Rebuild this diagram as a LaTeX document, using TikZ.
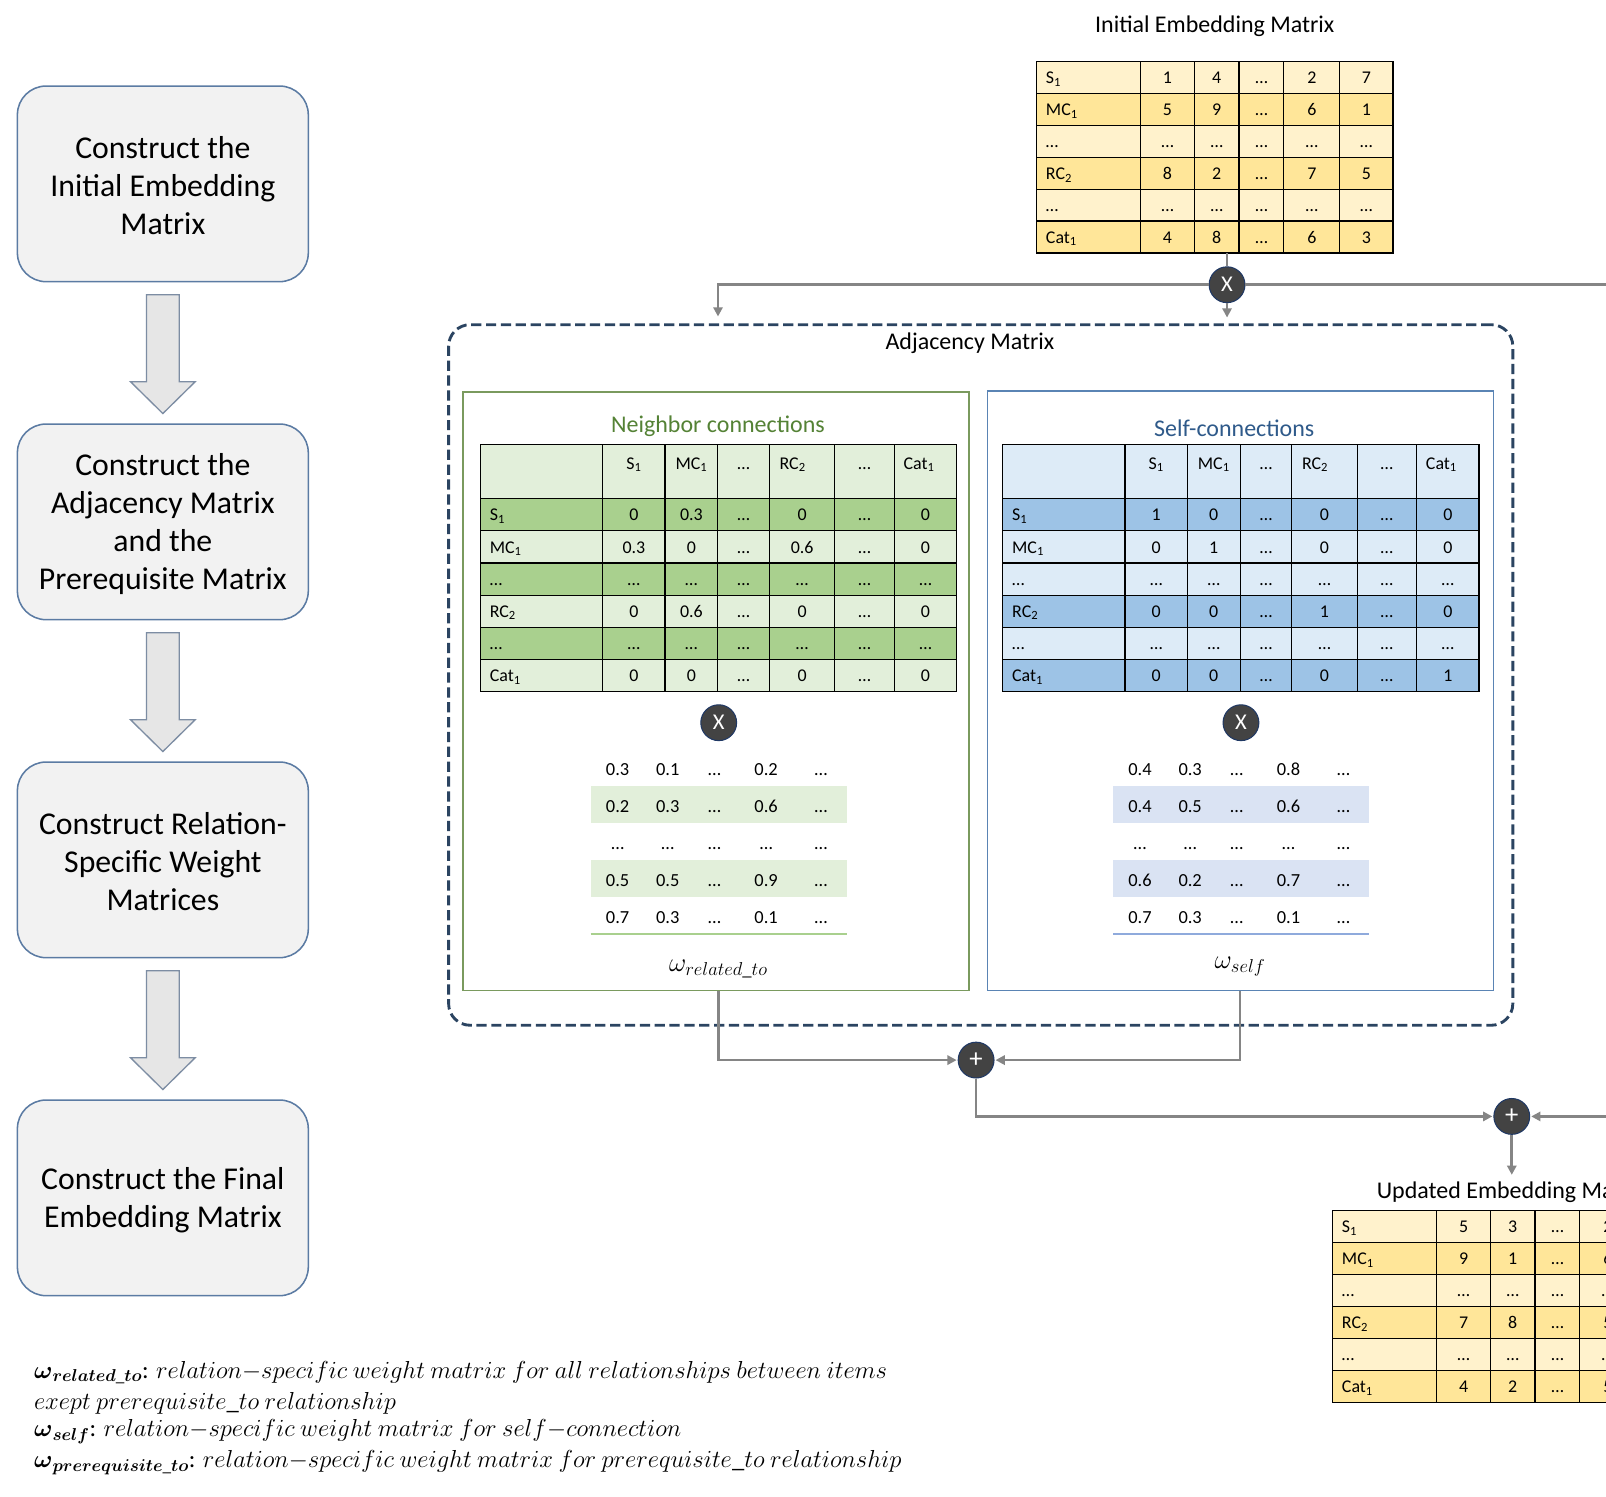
\RequirePackage{fix-cm}
\documentclass[tikz,border=0pt]{standalone}
\usepackage{amsmath}
\usepackage{fontspec}
\setmainfont{Carlito}
\usetikzlibrary{arrows.meta,calc}

\definecolor{yl}{HTML}{FFF2CC}
\definecolor{yd}{HTML}{FFE699}
\definecolor{gl}{HTML}{E2EFDA}
\definecolor{gd}{HTML}{A9D08E}
\definecolor{bl}{HTML}{DDEBF7}
\definecolor{bd}{HTML}{9DC3E6}
\definecolor{gpan}{HTML}{7A9A5E}
\definecolor{bpan}{HTML}{5A84B4}
\definecolor{gtitle}{HTML}{548235}
\definecolor{btitle}{HTML}{2F5A8A}
\definecolor{wgl}{HTML}{E2EFDA}
\definecolor{wbl}{HTML}{DAE3F3}
\definecolor{glinec}{HTML}{A9D08E}
\definecolor{blinec}{HTML}{8FAADC}
\definecolor{adjcol}{HTML}{2B4461}
\definecolor{conncol}{HTML}{858585}
\definecolor{circfill}{HTML}{434343}
\definecolor{circbd}{HTML}{1F3864}
\definecolor{boxfill}{HTML}{F2F2F2}
\definecolor{boxbd}{HTML}{5B7BA3}
\definecolor{arrfill}{HTML}{E6E6E6}
\definecolor{arrbd}{HTML}{7D8DA3}

\newcommand{\myTabFont}{\fontsize{17.5}{20}\selectfont}
\newcommand{\myTtlFont}{\fontsize{23.4}{28}\selectfont}
\newcommand{\myBoxFont}{\fontsize{31}{37}\selectfont}
\newcommand{\myWFont}{\fontsize{18}{21}\selectfont}

% embedding table: #1 prefix, #2/#3 shift, #4 rows
\newcommand{\mkemb}[4]{%
 \begin{scope}[shift={(#2,#3)}]
 \foreach \fc/\lab/\va/\vb/\vc/\vd/\ve [count=\r] in {#4}{%
   \pgfmathsetmacro{\yc}{60+(\r-0.5)*31.17}
   \fill[fill=\fc] (1012,\yc-15.585) rectangle (1360,\yc+15.585);
   \node[tlab] (#1-\r-0) at (1021,\yc) {\lab};
   \node[tval] (#1-\r-1) at (1139.9,\yc) {\va};
   \node[tval] (#1-\r-2) at (1187.9,\yc) {\vb};
   \node[tval] (#1-\r-3) at (1231.6,\yc) {\vc};
   \node[tval] (#1-\r-4) at (1280.8,\yc) {\vd};
   \node[tval] (#1-\r-5) at (1334.05,\yc) {\ve};
 }
 \draw[tline] (1012,60) rectangle (1360,247);
 \foreach \yy in {91.17,122.33,153.5,184.67,215.83} \draw[tline] (1012,\yy) -- (1360,\yy);
 \foreach \xx in {1113.7,1166.1,1209.7,1253.5,1308.1} \draw[tline] (\xx,60) -- (\xx,247);
 \end{scope}}

% adjacency table: #1 prefix, #2 x shift, #3 header colour, #4 rows
\newcommand{\mkadj}[4]{%
 \begin{scope}[shift={(#2,0)}]
 \fill[#3] (469,434) rectangle (934,487);
 \foreach \fc/\lab/\va/\vb/\vc/\vd/\ve/\vf [count=\r] in {#4}{%
   \pgfmathsetmacro{\yc}{487+(\r-0.5)*31.33}
   \fill[fill=\fc] (469,\yc-15.665) rectangle (934,\yc+15.665);
   \node[tlab] (#1-\r-0) at (478,\yc) {\lab};
   \node[tval] (#1-\r-1) at (618.85,\yc) {\va};
   \node[tval] (#1-\r-2) at (675.05,\yc) {\vb};
   \node[tval] (#1-\r-3) at (726.05,\yc) {\vc};
   \node[tval] (#1-\r-4) at (783.15,\yc) {\vd};
   \node[tval] (#1-\r-5) at (844.05,\yc) {\ve};
   \node[tval] (#1-\r-6) at (903.55,\yc) {\vf};
 }
 \node[tval] (#1-h-1) at (618.85,452) {S\textsubscript{1}};
 \node[tval] (#1-h-2) at (675.05,452) {MC\textsubscript{1}};
 \node[tval] (#1-h-3) at (726.05,452) {…};
 \node[tlab] (#1-h-4) at (761,452) {RC\textsubscript{2}};
 \node[tval] (#1-h-5) at (844.05,452) {…};
 \node[tlab] (#1-h-6) at (882,452) {Cat\textsubscript{1}};
 \draw[tline] (469,434) rectangle (934,675);
 \foreach \yy in {487,518.33,549.67,581,612.33,643.67} \draw[tline] (469,\yy) -- (934,\yy);
 \foreach \xx in {588.4,649.3,700.8,751.3,815,873.1} \draw[tline] (\xx,434) -- (\xx,675);
 \end{scope}}

% weight matrix: #1 prefix, #2 x shift, #3 shade, #4 line colour, #5 rows
\newcommand{\mkw}[5]{%
 \begin{scope}[shift={(#2,0)}]
 \fill[#3] (576.7,767.5) rectangle (826.7,803.5);
 \fill[#3] (576.7,839.5) rectangle (826.7,875.5);
 \draw[#4, line width=2.2pt] (576.7,912) -- (826.7,912);
 \foreach \va/\vb/\vc/\vd/\ve [count=\r] in {#5}{%
   \pgfmathsetmacro{\yc}{751+(\r-1)*36}
   \node[wval] (#1-\r-1) at (603,\yc) {\va};
   \node[wval] (#1-\r-2) at (652,\yc) {\vb};
   \node[wval] (#1-\r-3) at (697.5,\yc) {\vc};
   \node[wval] (#1-\r-4) at (748,\yc) {\vd};
   \node[wval] (#1-\r-5) at (801.6,\yc) {\ve};
 }
 \end{scope}}

\newcommand{\blockarr}[1]{%
 \draw[barrow] ($(#1.south)+(-16,12)$) -- ++(32,0) -- ++(0,85) -- ++(15.5,0)
   -- ($(#1.south)+(0,128)$) -- ($(#1.south)+(-31.5,97)$) -- ++(15.5,0) -- cycle;}

\begin{document}
\begin{tikzpicture}[x=1pt,y=-1pt,
  >={Triangle[length=9pt,width=9pt]},
  flowbox/.style={rounded corners=28pt, draw=boxbd, line width=1.5pt, fill=boxfill,
     minimum width=284pt, minimum height=191pt, align=center, font=\myBoxFont, inner sep=0pt},
  boxtext/.style={align=center, font=\myBoxFont, inner sep=0pt},
  barrow/.style={draw=arrbd, fill=arrfill, line width=1.3pt, line join=miter},
  tline/.style={draw=black, line width=1.1pt},
  tval/.style={inner sep=0pt, font=\myTabFont, text height=12pt, text depth=0pt, anchor=center},
  tlab/.style={tval, anchor=west},
  wval/.style={inner sep=0pt, font=\myWFont, text height=12.5pt, text depth=0pt, anchor=center},
  ttl/.style={inner sep=0pt, font=\myTtlFont},
  opcirc/.style={circle, fill=circfill, draw=circbd, line width=1pt, minimum size=35pt,
     inner sep=0pt, text=white, font=\fontsize{22}{24}\selectfont},
  conn/.style={draw=conncol, line width=2.6pt},
  fnote/.style={anchor=west, inner sep=0pt, font=\fontsize{24}{28}\selectfont},
]
\useasboundingbox (0,0) rectangle (1568,1461);
\clip (0,0) rectangle (1568,1461);
\fill[white] (0,0) rectangle (1568,1461);

% ---------- left flow ----------
\node[flowbox] (b1) at (159,179.5) {};
\node[flowbox] (b2) at (159,509.5) {};
\node[flowbox] (b3) at (159,839.5) {};
\node[flowbox] (b4) at (159,1169.5) {};
\node[boxtext] (t1) at (159,181.5) {Construct the\\Initial Embedding\\Matrix};
\node[boxtext] (t2) at (159,511.5) {Construct the\\Adjacency Matrix\\and the\\Prerequisite Matrix};
\node[boxtext] (t3) at (159,841.5) {Construct Relation-\\Specific Weight\\Matrices};
\node[boxtext] (t4) at (159,1171.5) {Construct the Final\\Embedding Matrix};
\blockarr{b1}
\blockarr{b2}
\blockarr{b3}

% ---------- initial embedding ----------
\node[ttl] (iettl) at (1186,26) {Initial Embedding Matrix};
\mkemb{ie}{0}{0}{yl/S\textsubscript{1}/1/4/…/2/7,yd/MC\textsubscript{1}/5/9/…/6/1,yl/…/…/…/…/…/…,yd/RC\textsubscript{2}/8/2/…/7/5,yl/…/…/…/…/…/…,yd/Cat\textsubscript{1}/4/8/…/6/3}
\node[minimum width=348pt, minimum height=187pt, inner sep=0pt] (iet) at (1186,153.5) {};

% ---------- adjacency box ----------
\node[draw=adjcol, dash pattern=on 10pt off 4.5pt, rounded corners=21pt, line width=2.8pt,
      minimum width=1039pt, minimum height=684pt, inner sep=0pt] (adj) at (957.5,659) {};
\node[ttl] (adjttl) at (947,335) {Adjacency Matrix};

\node[draw=gpan, line width=1.6pt, minimum width=494pt, minimum height=584pt, inner sep=0pt] (gp) at (699,675) {};
\node[draw=bpan, line width=1.6pt, minimum width=494pt, minimum height=585pt, inner sep=0pt] (bp) at (1211,674.5) {};
\node[ttl, text=gtitle] (gttl) at (701,416) {Neighbor connections};
\node[ttl, text=btitle] (bttl) at (1205,418) {Self-connections};

\mkadj{nt}{0}{gl}{gd/S\textsubscript{1}/0/0.3/…/0/…/0,gl/MC\textsubscript{1}/0.3/0/…/0.6/…/0,gd/…/…/…/…/…/…/…,gl/RC\textsubscript{2}/0/0.6/…/0/…/0,gd/…/…/…/…/…/…/…,gl/Cat\textsubscript{1}/0/0/…/0/…/0}
\mkadj{st}{510}{bl}{bd/S\textsubscript{1}/1/0/…/0/…/0,bl/MC\textsubscript{1}/0/1/…/0/…/0,bl/…/…/…/…/…/…/…,bd/RC\textsubscript{2}/0/0/…/1/…/0,bl/…/…/…/…/…/…/…,bd/Cat\textsubscript{1}/0/0/…/0/…/1}

\node[opcirc] (xg) at (701.7,705.6) {X};
\node[opcirc] (xs) at (1211.6,705.6) {X};

\mkw{wg}{0}{wgl}{glinec}{0.3/0.1/…/0.2/…,0.2/0.3/…/0.6/…,…/…/…/…/…,0.5/0.5/…/0.9/…,0.7/0.3/…/0.1/…}
\mkw{ws}{510}{wbl}{blinec}{0.4/0.3/…/0.8/…,0.4/0.5/…/0.6/…,…/…/…/…/…,0.6/0.2/…/0.7/…,0.7/0.3/…/0.1/…}

\node[inner sep=0pt, font=\fontsize{26}{30}\selectfont] (wrel) at (701.3,946) {$\omega_{related\_to}$};
\node[inner sep=0pt, font=\fontsize{26}{30}\selectfont] (wself) at (1210.7,944) {$\omega_{self}$};

% ---------- operators ----------
\node[opcirc] (x1) at (1198,278) {X};
\node[opcirc, font=\fontsize{26}{28}\selectfont] (p1) at (953,1035) {+};
\node[opcirc, font=\fontsize{26}{28}\selectfont] (p2) at (1476,1090) {+};

\coordinate (ain1) at (701,309);
\coordinate (ain2) at (1198,310);
\coordinate (rout) at (1590,278);
\coordinate (rin) at (1590,1090);
\coordinate (uin) at (1476,1147);

% ---------- updated embedding ----------
\node[ttl, anchor=west] (uettl) at (1344,1164) {Updated Embedding Matrix};
\mkemb{ue}{289}{1122}{yl/S\textsubscript{1}/5/3/…/2/,yd/MC\textsubscript{1}/9/1/…/6/,yl/…/…/…/…/…/,yd/RC\textsubscript{2}/7/8/…/5/,yl/…/…/…/…/…/,yd/Cat\textsubscript{1}/4/2/…/5/}

% ---------- connectors ----------
\draw[conn] (iet.south -| x1) -- (x1.north);
\draw[conn,->] (x1.west) -| (ain1);
\draw[conn,->] (x1.south) -- (ain2);
\draw[conn] (x1.east) -- (rout);
\draw[conn,->,shorten >=1pt] (wrel |- gp.south) |- (p1.west);
\draw[conn,->,shorten >=1pt] (wself |- bp.south) |- (p1.east);
\draw[conn,->,shorten >=1pt] (p1.south) |- (p2.west);
\draw[conn,->,shorten >=1pt] (rin) -- (p2.east);
\draw[conn,->] (p2.south) -- (uin);

% ---------- footnote ----------
\node[fnote] (f1) at (33,1340) {$\boldsymbol{\omega}_{\boldsymbol{related\_to}}$: $relation{-}specific\ weight\ matrix\ for\ all\ relationships\ between\ items$};
\node[fnote] (f2) at (33,1370) {$exept\ prerequisite\_to\ relationship$};
\node[fnote] (f3) at (33,1398) {$\boldsymbol{\omega}_{\boldsymbol{self}}$: $relation{-}specific\ weight\ matrix\ for\ self{-}connection$};
\node[fnote] (f4) at (33,1428) {$\boldsymbol{\omega}_{\boldsymbol{prerequisite\_to}}$: $relation{-}specific\ weight\ matrix\ for\ prerequisite\_to\ relationship$};
\end{tikzpicture}
\end{document}
